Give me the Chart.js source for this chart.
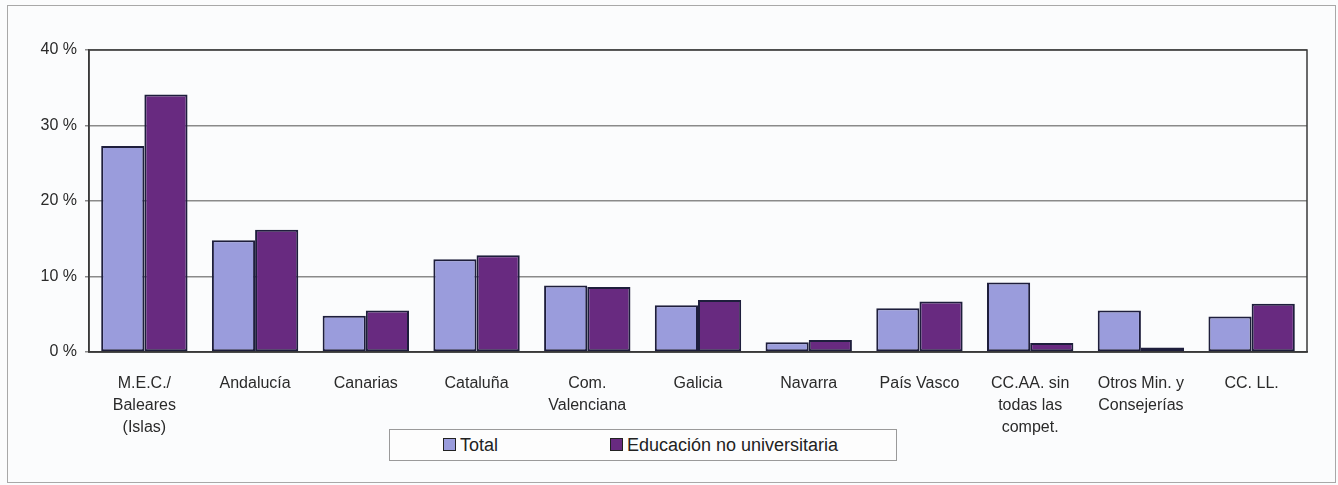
<!doctype html>
<html>
<head>
<meta charset="utf-8">
<title>Gráfico</title>
<script src="https://cdn.jsdelivr.net/npm/chart.js"></script>
<style>
  html, body { margin: 0; padding: 0; background: #fbfcfd; }
  body { width: 1338px; height: 485px; position: relative; overflow: hidden; font-family: Arial, "Liberation Sans", sans-serif; }
  #marco { position: absolute; left: 7px; top: 5px; width: 1327px; height: 476px; border: 1px solid #a8a8a8; }
  #wrap { position: absolute; left: 0; top: 0; width: 1338px; height: 485px; }
  #leyenda { position: absolute; left: 389px; top: 429px; width: 506px; height: 30px; border: 1px solid #9a9a9a; background: #fdfdfd; font-size: 18px; color: #222; }
  #leyenda span.item { position: absolute; top: 5px; white-space: nowrap; }
  #leyenda i { display: inline-block; width: 11px; height: 11px; border: 1px solid #222; margin-right: 4px; vertical-align: 0px; }
</style>
</head>
<body>
<div id="marco"></div>
<div id="wrap"><canvas id="grafico"></canvas></div>
<div id="leyenda">
  <span class="item" style="left:53px"><i style="background:#9a9cdc"></i>Total</span>
  <span class="item" style="left:220px"><i style="background:#682a80"></i>Educación no universitaria</span>
</div>
<script>
// datos
const categorias = [
  ['M.E.C./', 'Baleares', '(Islas)'],
  'Andalucía',
  'Canarias',
  'Cataluña',
  ['Com.', 'Valenciana'],
  'Galicia',
  'Navarra',
  'País Vasco',
  ['CC.AA. sin', 'todas las', 'compet.'],
  ['Otros Min. y', 'Consejerías'],
  'CC. LL.'
];
const total = [27.3, 14.8, 4.8, 12.3, 8.8, 6.2, 1.3, 5.8, 9.2, 5.5, 4.7];
const educacionNoUniv = [34.1, 16.2, 5.5, 12.8, 8.6, 6.9, 1.6, 6.7, 1.2, 0.6, 6.4];

const COLOR_TOTAL = '#9a9cdc';
const COLOR_EDU = '#682a80';
const BORDE = '#1e1e3c';

// marco del área de trazado
const marcoPlot = {
  id: 'marcoPlot',
  afterDraw(chart) {
    const a = chart.chartArea, ctx = chart.ctx;
    ctx.save();
    ctx.strokeStyle = '#3a3a3a';
    ctx.lineWidth = 1.5;
    ctx.strokeRect(a.left, a.top, a.right - a.left, a.bottom - a.top);
    ctx.restore();
  }
};

new Chart(document.getElementById('grafico').getContext('2d'), {
  type: 'bar',
  data: {
    labels: categorias,
    datasets: [
      {
        label: 'Total',
        data: total,
        backgroundColor: COLOR_TOTAL,
        borderColor: BORDE,
        borderWidth: 2,
        borderSkipped: false,
        categoryPercentage: 0.78,
        barPercentage: 1.0
      },
      {
        label: 'Educación no universitaria',
        data: educacionNoUniv,
        backgroundColor: COLOR_EDU,
        borderColor: BORDE,
        borderWidth: 2,
        borderSkipped: false,
        categoryPercentage: 0.78,
        barPercentage: 1.0
      }
    ]
  },
  options: {
    responsive: true,
    maintainAspectRatio: false,
    animation: false,
    layout: { padding: { left: 0, right: 31, top: 50, bottom: 0 } },
    plugins: {
      legend: { display: false },
      tooltip: { enabled: false }
    },
    scales: {
      x: {
        grid: { display: false },
        border: { display: true, color: '#3a3a3a', width: 1.5 },
        ticks: {
          color: '#2a2a2a',
          font: { family: 'Arial, "Liberation Sans", sans-serif', size: 16, lineHeight: 1.375 },
          padding: 13,
          maxRotation: 0,
          autoSkip: false
        },
        afterFit(scale) { scale.height = 133; }
      },
      y: {
        min: 0,
        max: 40,
        ticks: {
          stepSize: 10,
          padding: 8,
          color: '#2a2a2a',
          font: { family: 'Arial, "Liberation Sans", sans-serif', size: 16 },
          callback: v => v + ' %'
        },
        grid: {
          color: '#8a8a8a',
          lineWidth: 1.5,
          tickLength: 4,
          drawTicks: true
        },
        border: { display: true, color: '#3a3a3a', width: 1.5 },
        afterFit(scale) { scale.width = 89; }
      }
    }
  },
  plugins: [marcoPlot]
});
</script>
</body>
</html>
